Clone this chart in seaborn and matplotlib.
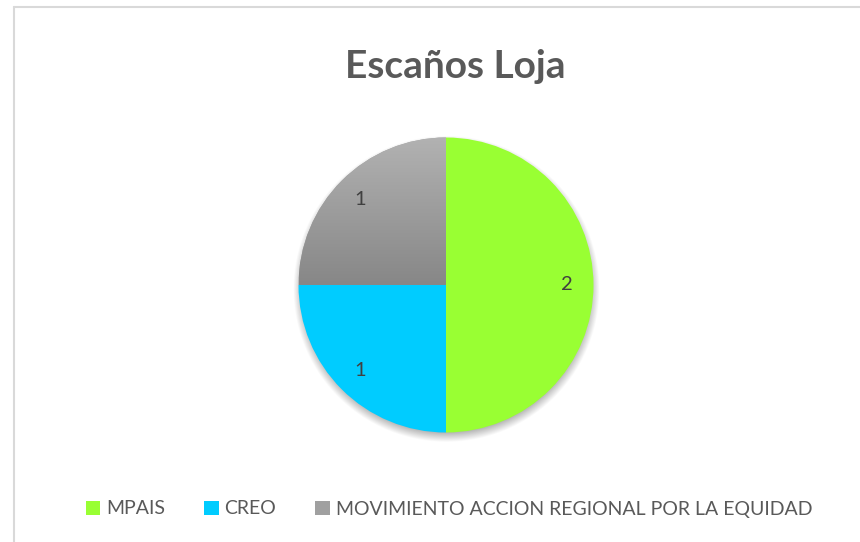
import numpy as np
import matplotlib
matplotlib.use("Agg")
import matplotlib.pyplot as plt
import seaborn as sns
from matplotlib.lines import Line2D

# datos
partidos = ["MPAIS", "CREO", "MOVIMIENTO ACCION REGIONAL POR LA EQUIDAD"]
escanos = [2, 1, 1]
colores = ["#99FF33", "#00CCFF", "#A0A0A0"]

sns.set_theme(style="white")
plt.rcParams["font.family"] = ["Lato", "DejaVu Sans"]

W, H = 860, 542
fig = plt.figure(figsize=(W / 100, H / 100), dpi=100)
fig.patch.set_facecolor("white")

# marco del gráfico
fig.add_artist(Line2D([14 / W, 14 / W], [0, 1 - 7 / H], color="#D9D9D9", lw=1.5))
fig.add_artist(Line2D([14 / W, 1], [1 - 7 / H, 1 - 7 / H], color="#D9D9D9", lw=1.5))

# ejes del pastel
cx, cy, r = 446, 285, 147.5
lim = 1.1
half = r * lim
ax = fig.add_axes([(cx - half) / W, (H - cy - half) / H, 2 * half / W, 2 * half / H])
ax.set_axis_off()

# sombra suave
g = np.linspace(-lim, lim, 400)
xx, yy = np.meshgrid(g, g)
dist = np.sqrt((xx - 0.0) ** 2 + (yy + 0.03) ** 2)
alpha = np.clip((1.04 - dist) / 0.08, 0, 1) * 0.35
sombra = np.zeros((400, 400, 4))
sombra[..., 3] = alpha
ax.imshow(sombra, extent=[-lim, lim, -lim, lim], origin="lower", zorder=0)

total = sum(escanos)
wedges, textos, autotextos = ax.pie(
    escanos,
    colors=colores,
    startangle=90,
    counterclock=False,
    autopct=lambda p: f"{round(p * total / 100)}",
    pctdistance=0.82,
    wedgeprops=dict(linewidth=0),
    textprops=dict(color="#404040", fontsize=14.5),
)
for w in wedges:
    w.set_zorder(1)

# degradado del sector gris
grad = np.linspace(0, 1, 256).reshape(-1, 1)
cmap = matplotlib.colors.LinearSegmentedColormap.from_list("g", ["#878787", "#B2B2B2"])
img = ax.imshow(grad, extent=[-1, 0, 0, 1], origin="lower", cmap=cmap, aspect="auto", zorder=1.5)
img.set_clip_path(wedges[2])
for t in autotextos:
    t.set_zorder(3)

ax.set_xlim(-lim, lim)
ax.set_ylim(-lim, lim)

fig.text(455 / W, 1 - 66 / H, "Escaños Loja", ha="center", va="center",
         fontsize=28, fontweight="bold", color="#595959")

fig.legend(wedges, partidos, loc="center", bbox_to_anchor=(449 / W, 1 - 509 / H),
           ncol=3, frameon=False, fontsize=14, handlelength=0.75, handleheight=0.75,
           handletextpad=0.3, columnspacing=2.0, labelcolor="#595959")

fig.savefig("out.png", dpi=100, facecolor="white")
